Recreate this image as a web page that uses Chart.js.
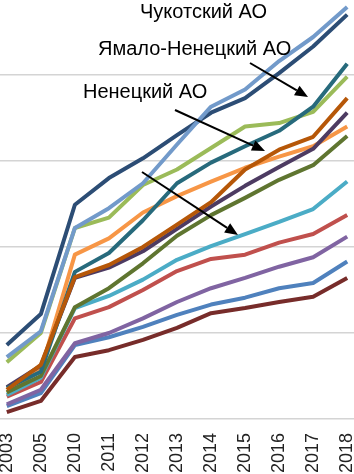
<!DOCTYPE html>
<html>
<head>
<meta charset="utf-8">
<script src="https://cdn.jsdelivr.net/npm/chart.js@4.4.1/dist/chart.umd.min.js"></script>
<style>
  html, body { margin: 0; padding: 0; background: #fff; }
  #chart { display: block; }
</style>
</head>
<body>
<canvas id="chart" width="354" height="474"></canvas>
<script>
const years = ["2003", "2005", "2010", "2011", "2012", "2013", "2014", "2015", "2016", "2017", "2018"]

// series in Excel order (1..13)
const s1  = [15, 30, 86, 95, 107, 121, 133, 141, 152, 158, 183]
const s2  = [26, 43, 117, 130, 150, 172, 186, 191, 205, 215, 237]
const s3  = [66, 100, 222, 234, 272, 290, 315, 340, 344, 357, 398]
const s4  = [17, 34, 88, 100, 117, 136, 152, 164, 177, 188, 212]
const s5  = [28, 48, 129, 143, 162, 185, 201, 215, 229, 244, 276]
const s6  = [31, 57, 191, 210, 240, 259, 276, 292, 305, 317, 340]
const s7  = [86, 122, 249, 280, 303, 330, 356, 373, 402, 433, 470]
const s8  = [8, 21, 72, 80, 92, 106, 123, 129, 136, 142, 164]
const s9  = [31, 50, 130, 152, 181, 213, 237, 257, 278, 295, 329]
const s10 = [37, 62, 164, 176, 195, 221, 247, 271, 293, 314, 356]
const s11 = [36, 55, 171, 193, 231, 274, 298, 317, 335, 363, 413]
const s12 = [34, 63, 165, 179, 200, 226, 252, 290, 313, 328, 373]
const s13 = [72, 102, 222, 245, 274, 319, 363, 383, 416, 444, 479]

const seriesList = [s1, s2, s3, s4, s5, s6, s7, s8, s9, s10, s11, s12, s13]
const colors = [
  "#4F81BD", "#C0504D", "#9BBB59", "#8064A2", "#4BACC6", "#F79646",
  "#2C4D75", "#772C2A", "#5F7530", "#4D3B62", "#276A7C", "#B65708", "#729ACA"
]

const notes = [
  { text: "Чукотский АО", x: 140, y: 18, from: [142, 172], to: [238, 235] },
  { text: "Ямало-Ненецкий АО", x: 98, y: 55, from: [250, 63], to: [308, 97] },
  { text: "Ненецкий АО", x: 83, y: 98, from: [175, 110], to: [265, 151] }
]

const labelFont = '"Liberation Sans", Arial, sans-serif'

const notesPlugin = {
  id: "notes",
  afterDatasetsDraw(chart) {
    const ctx = chart.ctx
    ctx.save()
    ctx.fillStyle = "#000"
    ctx.strokeStyle = "#000"
    ctx.font = "20px " + labelFont
    ctx.textBaseline = "alphabetic"
    notes.forEach(n => {
      ctx.fillText(n.text, n.x, n.y)
      const [x1, y1] = n.from
      const [x2, y2] = n.to
      const a = Math.atan2(y2 - y1, x2 - x1)
      const head = 13, half = 5.5
      const bx = x2 - head * Math.cos(a), by = y2 - head * Math.sin(a)
      ctx.lineWidth = 2
      ctx.beginPath()
      ctx.moveTo(x1, y1)
      ctx.lineTo(bx, by)
      ctx.stroke()
      ctx.beginPath()
      ctx.moveTo(x2, y2)
      ctx.lineTo(bx + half * Math.sin(a), by - half * Math.cos(a))
      ctx.lineTo(bx - half * Math.sin(a), by + half * Math.cos(a))
      ctx.closePath()
      ctx.fill()
    })
    ctx.restore()
  }
}

const datasets = seriesList.map((vals, i) => ({
  label: "Ряд " + (i + 1),
  data: vals.map((v, k) => ({ x: k, y: v })),
  borderColor: colors[i],
  backgroundColor: colors[i],
  borderWidth: 4,
  pointRadius: 0,
  tension: 0,
  borderJoinStyle: "round",
  borderCapStyle: "butt"
})).reverse() // later Excel series sit on top

new Chart(document.getElementById("chart").getContext("2d"), {
  type: "line",
  data: { datasets },
  options: {
    responsive: false,
    animation: false,
    layout: { padding: 0 },
    plugins: { legend: { display: false }, tooltip: { enabled: false } },
    scales: {
      x: {
        type: "linear",
        min: -0.2,
        max: 10.2,
        grid: { display: false },
        border: { display: false },
        afterFit: (s) => { s.height = 55; s.paddingLeft = 0; s.paddingRight = 0 },
        ticks: {
          stepSize: 1,
          includeBounds: false,
          autoSkip: false,
          minRotation: 90,
          maxRotation: 90,
          padding: 6,
          color: "#222",
          font: { family: labelFont, size: 18 },
          callback: (v) => years[v] ?? ""
        }
      },
      y: {
        min: 0,
        max: 487,
        border: { display: false },
        afterFit: (s) => { s.width = 0 },
        grid: { color: "#d4d4d4", lineWidth: 1.5, drawTicks: false },
        ticks: { display: false, stepSize: 100, includeBounds: false }
      }
    }
  },
  plugins: [notesPlugin]
})
</script>
</body>
</html>
